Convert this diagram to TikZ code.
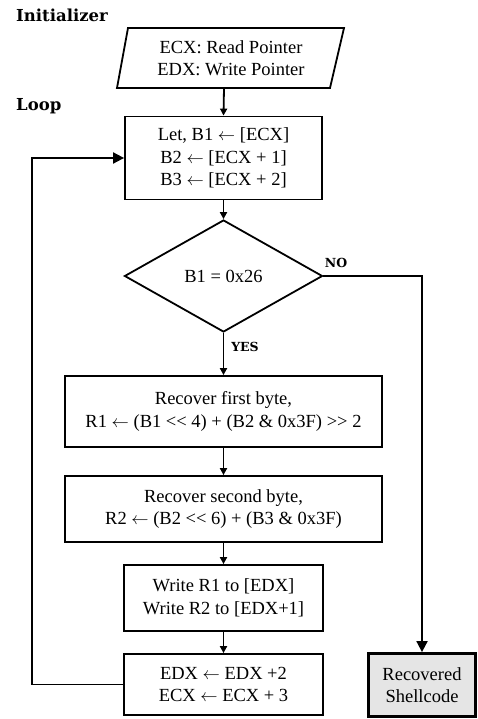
\documentclass[tikz,border=0pt]{standalone}
\usepackage{fontspec}
\setmainfont{Liberation Serif}
\newfontfamily\headfont{DejaVu Serif}
\usetikzlibrary{shapes.geometric,arrows.meta}
\newcommand{\myarr}{\ $\leftarrow$\ }
\begin{document}
\begin{tikzpicture}[x=1pt,y=-1pt,
  txt/.style={font=\fontsize{18.5}{22.5}\selectfont,align=center},
  box/.style={txt,draw,line width=1.8pt,rectangle,inner sep=0pt},
  head/.style={font=\headfont\bfseries\fontsize{16.5}{18}\selectfont,anchor=west,inner sep=0pt},
  lab/.style={font=\headfont\bfseries\fontsize{12.5}{14}\selectfont,inner sep=0pt},
  flow/.style={line width=1.8pt,-{Triangle[length=7pt,width=7pt]}},
  bigflow/.style={line width=1.8pt,-{Triangle[length=11pt,width=11pt]}}]
\useasboundingbox (0,0) rectangle (478,719);
% headings
\node[head] (hinit) at (16,15) {Initializer};
\node[head] (hloop) at (16,106) {Loop};
% initializer parallelogram
\draw[line width=1.8pt,line join=miter] (128,28) -- (344,28) -- (330,88) -- (117,88) -- cycle;
\node[txt] (init) at (231,58) {ECX: Read Pointer\\EDX: Write Pointer};
\coordinate (initb) at (224,88);
% loop boxes
\node[box,minimum width=197pt,minimum height=83pt] (load) at (223.5,158) {Let, B1\myarr[ECX]\\B2\myarr[ECX + 1]\\B3\myarr[ECX + 2]};
\node[txt,draw,line width=1.8pt,shape=diamond,inner sep=0pt,minimum width=198pt,minimum height=112pt] (test) at (223.5,276) {B1 = 0x26};
\node[box,minimum width=317pt,minimum height=71pt] (r1) at (223.5,411.5) {Recover first byte,\\R1\myarr(B1 <{}< 4) + (B2 \& 0x3F) >{}> 2};
\node[box,minimum width=317pt,minimum height=66pt] (r2) at (223.5,509) {Recover second byte,\\R2\myarr(B2 <{}< 6) + (B3 \& 0x3F)};
\node[box,minimum width=199pt,minimum height=66pt] (wr) at (223.5,598) {Write R1 to [EDX]\\Write R2 to [EDX+1]};
\node[box,minimum width=199pt,minimum height=61pt] (inc) at (223.5,684.5) {EDX\myarr EDX +2\\ECX\myarr ECX + 3};
\node[box,line width=2.8pt,fill=black!10,minimum width=107pt,minimum height=63pt] (out) at (422,685) {Recovered\\Shellcode};
% labels
\node[lab] (no) at (336,263) {NO};
\node[lab] (yes) at (245,347) {YES};
% connectors
\draw[flow] (initb) -- (load.north);
\draw[flow] (load.south) -- (test.north);
\draw[flow] (test.south) -- (r1.north);
\draw[flow] (r1.south) -- (r2.north);
\draw[flow] (r2.south) -- (wr.north);
\draw[flow] (wr.south) -- (inc.north);
\draw[bigflow] (test.east) -| (out.north);
\draw[bigflow] (inc.west) -- (32,684.5) |- (load.west);
\end{tikzpicture}
\end{document}
